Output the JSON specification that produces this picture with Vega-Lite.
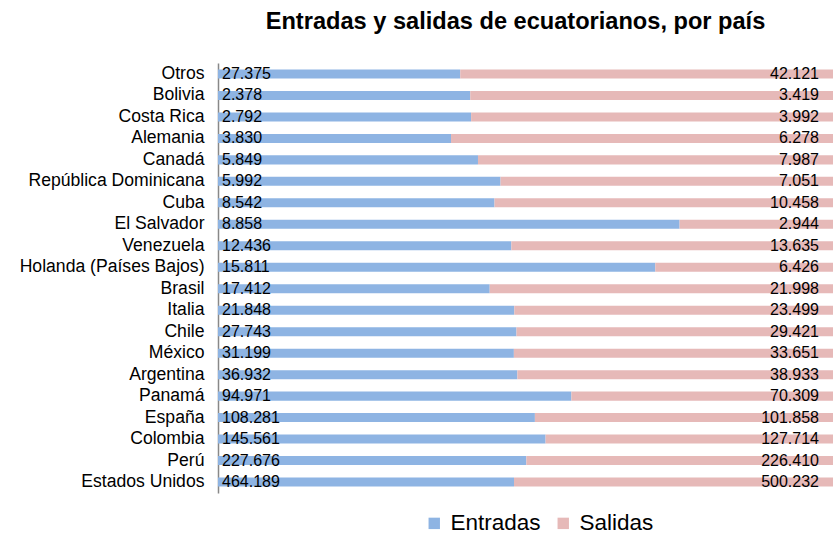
{
  "$schema": "https://vega.github.io/schema/vega-lite/v6.json",
  "width": 615,
  "height": 430,
  "padding": {"left": 19, "top": 10, "right": 1, "bottom": 5},
  "config": {
    "locale": {"number": {"decimal": ",", "thousands": ".", "grouping": [3], "currency": ["", ""]}},
    "font": "Liberation Sans",
    "view": {"stroke": null}
  },
  "title": {
    "text": "Entradas y salidas de ecuatorianos, por país",
    "fontSize": 23.6,
    "fontWeight": "bold",
    "font": "Liberation Sans",
    "color": "#000000",
    "anchor": "middle",
    "dx": -10,
    "offset": 29
  },
  "data": {
    "values": [
      {"pais": "Otros", "Entradas": 27375, "Salidas": 42121},
      {"pais": "Bolivia", "Entradas": 2378, "Salidas": 3419},
      {"pais": "Costa Rica", "Entradas": 2792, "Salidas": 3992},
      {"pais": "Alemania", "Entradas": 3830, "Salidas": 6278},
      {"pais": "Canadá", "Entradas": 5849, "Salidas": 7987},
      {"pais": "República Dominicana", "Entradas": 5992, "Salidas": 7051},
      {"pais": "Cuba", "Entradas": 8542, "Salidas": 10458},
      {"pais": "El Salvador", "Entradas": 8858, "Salidas": 2944},
      {"pais": "Venezuela", "Entradas": 12436, "Salidas": 13635},
      {"pais": "Holanda (Países Bajos)", "Entradas": 15811, "Salidas": 6426},
      {"pais": "Brasil", "Entradas": 17412, "Salidas": 21998},
      {"pais": "Italia", "Entradas": 21848, "Salidas": 23499},
      {"pais": "Chile", "Entradas": 27743, "Salidas": 29421},
      {"pais": "México", "Entradas": 31199, "Salidas": 33651},
      {"pais": "Argentina", "Entradas": 36932, "Salidas": 38933},
      {"pais": "Panamá", "Entradas": 94971, "Salidas": 70309},
      {"pais": "España", "Entradas": 108281, "Salidas": 101858},
      {"pais": "Colombia", "Entradas": 145561, "Salidas": 127714},
      {"pais": "Perú", "Entradas": 227676, "Salidas": 226410},
      {"pais": "Estados Unidos", "Entradas": 464189, "Salidas": 500232}
    ]
  },
  "transform": [{"fold": ["Entradas", "Salidas"], "as": ["tipo", "valor"]}],
  "encoding": {
    "y": {
      "field": "pais",
      "type": "nominal",
      "sort": null,
      "scale": {"paddingInner": 0.58, "paddingOuter": 0.3},
      "axis": {
        "title": null,
        "ticks": false,
        "labelFontSize": 17.6,
        "labelLimit": 400,
        "labelColor": "#000000",
        "labelPadding": 14,
        "domainColor": "#888888",
        "domainWidth": 1.5,
        "grid": false
      }
    }
  },
  "layer": [
    {
      "mark": {"type": "bar"},
      "encoding": {
        "x": {"field": "valor", "type": "quantitative", "stack": "normalize", "axis": null},
        "color": {
          "field": "tipo",
          "type": "nominal",
          "scale": {"domain": ["Entradas", "Salidas"], "range": ["#8EB4E3", "#E6B9B8"]},
          "legend": {
            "orient": "none",
            "legendX": 205,
            "legendY": 449,
            "direction": "horizontal",
            "title": null,
            "symbolType": "square",
            "symbolSize": 130,
            "symbolStrokeWidth": 0,
            "labelFontSize": 22.5,
            "labelColor": "#000000",
            "columnPadding": 11,
            "labelOffset": 5
          }
        }
      }
    },
    {
      "transform": [{"filter": "datum.tipo == 'Entradas'"}],
      "mark": {"type": "text", "align": "left", "dx": 4, "fontSize": 16, "color": "#000000"},
      "encoding": {
        "x": {"datum": 0, "type": "quantitative"},
        "text": {"field": "valor", "type": "quantitative", "format": ",d"}
      }
    },
    {
      "transform": [{"filter": "datum.tipo == 'Salidas'"}],
      "mark": {"type": "text", "align": "right", "dx": -14, "fontSize": 16, "color": "#000000"},
      "encoding": {
        "x": {"datum": 1, "type": "quantitative"},
        "text": {"field": "valor", "type": "quantitative", "format": ",d"}
      }
    }
  ]
}
